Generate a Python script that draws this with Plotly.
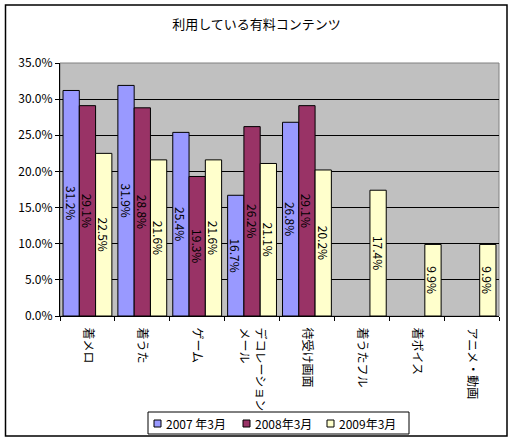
import plotly.graph_objects as go

categories = ["着メロ", "着うた", "ゲーム", "デコレーション<br>メール", "待受け画面", "着うたフル", "着ボイス", "アニメ・動画"]
series_names = ["2007 年3月", "2008年3月", "2009年3月"]
values_2007 = [31.2, 31.9, 25.4, 16.7, 26.8, None, None, None]
values_2008 = [29.1, 28.8, 19.3, 26.2, 29.1, None, None, None]
values_2009 = [22.5, 21.6, 21.6, 21.1, 20.2, 17.4, 9.9, 9.9]
y_ticks = [0, 5, 10, 15, 20, 25, 30, 35]
y_tick_labels = [f"{v:.1f}%" for v in y_ticks]

colors = ["#9999FF", "#993366", "#FFFFCC"]
font_family = "Noto Sans CJK JP"

fig = go.Figure()
for name, vals, color in zip(series_names, [values_2007, values_2008, values_2009], colors):
    fig.add_trace(go.Bar(
        x=categories,
        y=vals,
        name=name,
        marker=dict(color=color, line=dict(color="black", width=1)),
        text=[f"{v:.1f}%" if v is not None else "" for v in vals],
        textposition="inside",
        insidetextanchor="middle",
        textangle=90,
        constraintext="none",
        textfont=dict(color="black", size=12, family=font_family),
        showlegend=False,
    ))

# plot area in pixels: x 60..499, y 63..316
W, H = 513, 441
L, R, T, B = 60, 14, 63, 125
pw, ph = W - L - R, H - T - B


def px_x(p):
    return (p - L) / pw


def px_y(p):
    return (H - B - p) / ph


# outer chart frame
fig.add_shape(type="rect", xref="paper", yref="paper",
              x0=px_x(5.5), x1=px_x(507), y0=px_y(436), y1=px_y(5),
              line=dict(color="black", width=1.5), layer="below")
# plot area border
fig.add_shape(type="rect", xref="paper", yref="paper",
              x0=0, x1=1, y0=0, y1=1,
              line=dict(color="#808080", width=1), layer="below")

# legend box, drawn by hand to keep it compact
fig.add_shape(type="rect", xref="paper", yref="paper",
              x0=px_x(148), x1=px_x(409), y0=px_y(434), y1=px_y(412),
              line=dict(color="black", width=1), fillcolor="white")
legend_starts = [154, 243, 327]
for x0, name, color in zip(legend_starts, series_names, colors):
    fig.add_shape(type="rect", xref="paper", yref="paper",
                  x0=px_x(x0), x1=px_x(x0 + 7), y0=px_y(427), y1=px_y(420),
                  line=dict(color="black", width=1), fillcolor=color)
    fig.add_annotation(xref="paper", yref="paper", x=px_x(x0 + 10), y=px_y(423.5),
                       text=name, showarrow=False, xanchor="left", yanchor="middle",
                       font=dict(size=12, family=font_family, color="black"))

fig.update_layout(
    width=W,
    height=H,
    barmode="group",
    bargap=0.11,
    bargroupgap=0,
    margin=dict(l=L, r=R, t=T, b=B),
    paper_bgcolor="white",
    plot_bgcolor="#C0C0C0",
    font=dict(family=font_family, size=11, color="black"),
    title=dict(text="利用している有料コンテンツ", x=0.5, xref="container",
               y=1 - 24 / H, yanchor="middle", font=dict(size=13)),
    xaxis=dict(
        type="category",
        tickangle=90,
        tickson="boundaries",
        ticks="outside",
        ticklen=4,
        tickcolor="black",
        showline=True,
        linecolor="black",
        showgrid=False,
        ticklabelstandoff=8,
        tickfont=dict(size=12),
    ),
    yaxis=dict(
        range=[0, 35],
        tickvals=y_ticks,
        ticktext=y_tick_labels,
        ticks="outside",
        ticklen=4,
        tickcolor="black",
        showline=True,
        linecolor="black",
        showgrid=True,
        gridcolor="black",
        gridwidth=1,
        zeroline=False,
        tickfont=dict(size=12),
    ),
    showlegend=False,
)

fig.write_html("out.html", config={"displayModeBar": False},
               post_script="document.body.style.margin='0';")
